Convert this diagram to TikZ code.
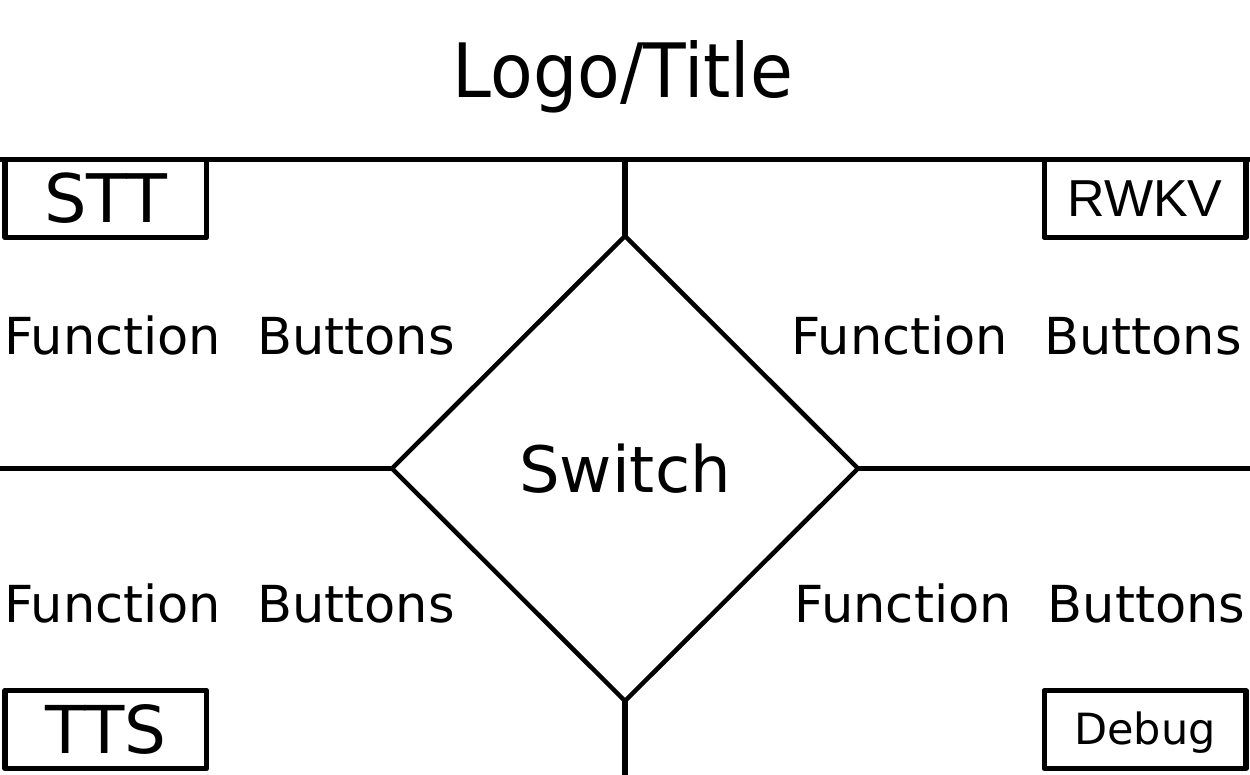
\documentclass[tikz,border=0pt]{standalone}
\usepackage{fontspec}
\setmainfont{DejaVu Sans}
\newfontfamily\arialf{Liberation Sans}
\usetikzlibrary{shapes.geometric}
\tikzset{
  box/.style={draw, line width=5.5pt, minimum width=201.5pt, minimum height=78pt,
    inner sep=0pt, outer sep=0pt, text depth=0pt, anchor=center},
  fb/.style={anchor=base, inner sep=0pt, font=\fontsize{51}{60}\selectfont},
  thickline/.style={line width=5pt},
  midline/.style={line width=4.5pt},
  vline/.style={line width=6pt}
}
\begin{document}
\begin{tikzpicture}[x=1pt,y=-1pt, line join=round]
\useasboundingbox (0,0) rectangle (1250,775);
% title
\node[anchor=base, inner sep=0pt, font=\fontsize{75}{90}\selectfont] (title) at (623,98) {\scalebox{0.93}[1]{Logo/Title}};
% corner boxes
\node[box, text height=49pt, font=\fontsize{67}{80}\selectfont] (stt) at (105.75,198.5) {STT};
\node[box, text height=37pt, font=\arialf\fontsize{52}{60}\selectfont] (rwkv) at (1145,198.5) {RWKV};
\node[box, text height=48pt, font=\fontsize{66}{80}\selectfont] (tts) at (105.75,729.5) {TTS};
\node[box, text height=30pt, font=\fontsize{43}{50}\selectfont] (debug) at (1145,729.5) {Debug};
% top line
\coordinate (tl) at (0,159.5);
\coordinate (tr) at (1250,159.5);
\draw[thickline] (tl) -- (tr);
% diamond
\node[diamond, draw, line width=4.5pt, minimum width=466pt, minimum height=465pt,
  inner sep=0pt, outer sep=0pt, text height=47pt, text depth=0pt,
  font=\fontsize{64}{75}\selectfont] (sw) at (625,468.5) {Switch\hspace{5pt}};
\coordinate (topc) at (625,159.5);
\coordinate (botc) at (625,775);
\coordinate (ml) at (0,468.5);
\coordinate (mr) at (1250,468.5);
\draw[vline] (topc) -- (sw.north);
\draw[vline] (sw.south) -- (botc);
\draw[midline] (ml) -- (sw.west);
\draw[midline] (sw.east) -- (mr);
% function buttons
\node[fb] (fb1) at (229.5,355) {Function\hspace{20pt} Buttons};
\node[fb] (fb2) at (1016.5,355) {Function\hspace{20pt} Buttons};
\node[fb] (fb3) at (229.5,622) {Function\hspace{20pt} Buttons};
\node[fb] (fb4) at (1020,622) {Function\hspace{20pt} Buttons};
\end{tikzpicture}
\end{document}
